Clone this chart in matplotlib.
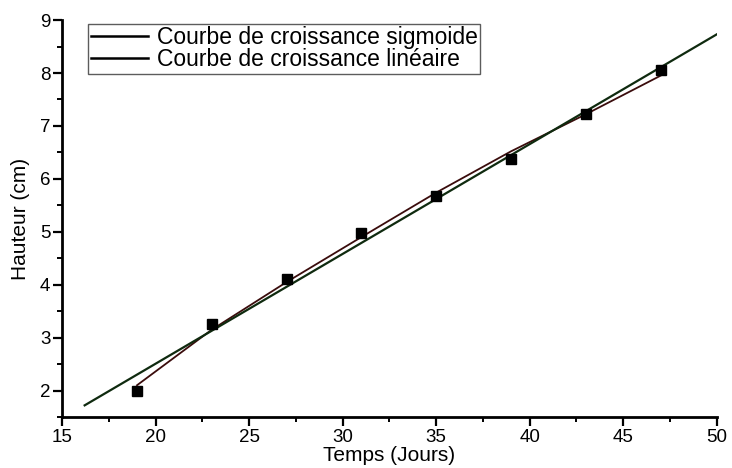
import matplotlib.pyplot as plt
from matplotlib.ticker import MultipleLocator

plt.rcParams['font.family'] = ['Liberation Sans', 'DejaVu Sans']

# mesures (points carrés)
jours = [19, 23, 27, 31, 35, 39, 43, 47]
hauteur = [2.0, 3.25, 4.1, 4.97, 5.67, 6.38, 7.22, 8.05]

# courbe sigmoide ajustée
sig_x = [19, 23, 27, 31, 35, 39, 43, 47]
sig_y = [2.1, 3.15, 4.05, 4.9, 5.74, 6.52, 7.22, 7.95]

# droite linéaire
lin_x = [16.2, 50]
lin_y = [1.72, 8.73]

fig = plt.figure(figsize=(7.32, 4.68), dpi=100)
ax = fig.add_axes([0.085, 0.109, 0.894, 0.848])

l1, = ax.plot(sig_x, sig_y, color='#3a0c0c', lw=1.3, label='Courbe de croissance sigmoide')
l2, = ax.plot(lin_x, lin_y, color='#0f2a0f', lw=1.6, label='Courbe de croissance linéaire')
ax.plot(jours, hauteur, 's', color='black', ms=6.5, zorder=5)

ax.set_xlim(15, 50)
ax.set_ylim(1.5, 9)
ax.xaxis.set_major_locator(MultipleLocator(5))
ax.xaxis.set_minor_locator(MultipleLocator(2.5))
ax.yaxis.set_major_locator(MultipleLocator(1))
ax.yaxis.set_minor_locator(MultipleLocator(0.5))

for s in ['top', 'right']:
    ax.spines[s].set_visible(False)
for s in ['left', 'bottom']:
    ax.spines[s].set_linewidth(2)

ax.tick_params(which='major', direction='out', length=6.5, width=1.6, labelsize=13.5, pad=2)
ax.tick_params(which='minor', direction='out', length=3.5, width=1.4)

ax.set_xlabel('Temps (Jours)', fontsize=15, labelpad=0)
ax.set_ylabel('Hauteur (cm)', fontsize=15, labelpad=7)

leg = ax.legend(handles=[l1, l2], loc='upper left', bbox_to_anchor=(0.04, 0.99),
                fontsize=16.5, frameon=True, fancybox=False, handlelength=2.5,
                borderpad=0.1, labelspacing=-0.05, handletextpad=0.4, borderaxespad=0)
leg.get_frame().set_edgecolor('#333333')
leg.get_frame().set_linewidth(1.0)
for h in leg.get_lines():
    h.set_color('black')
    h.set_linewidth(1.8)

fig.savefig('out.png', dpi=100)
